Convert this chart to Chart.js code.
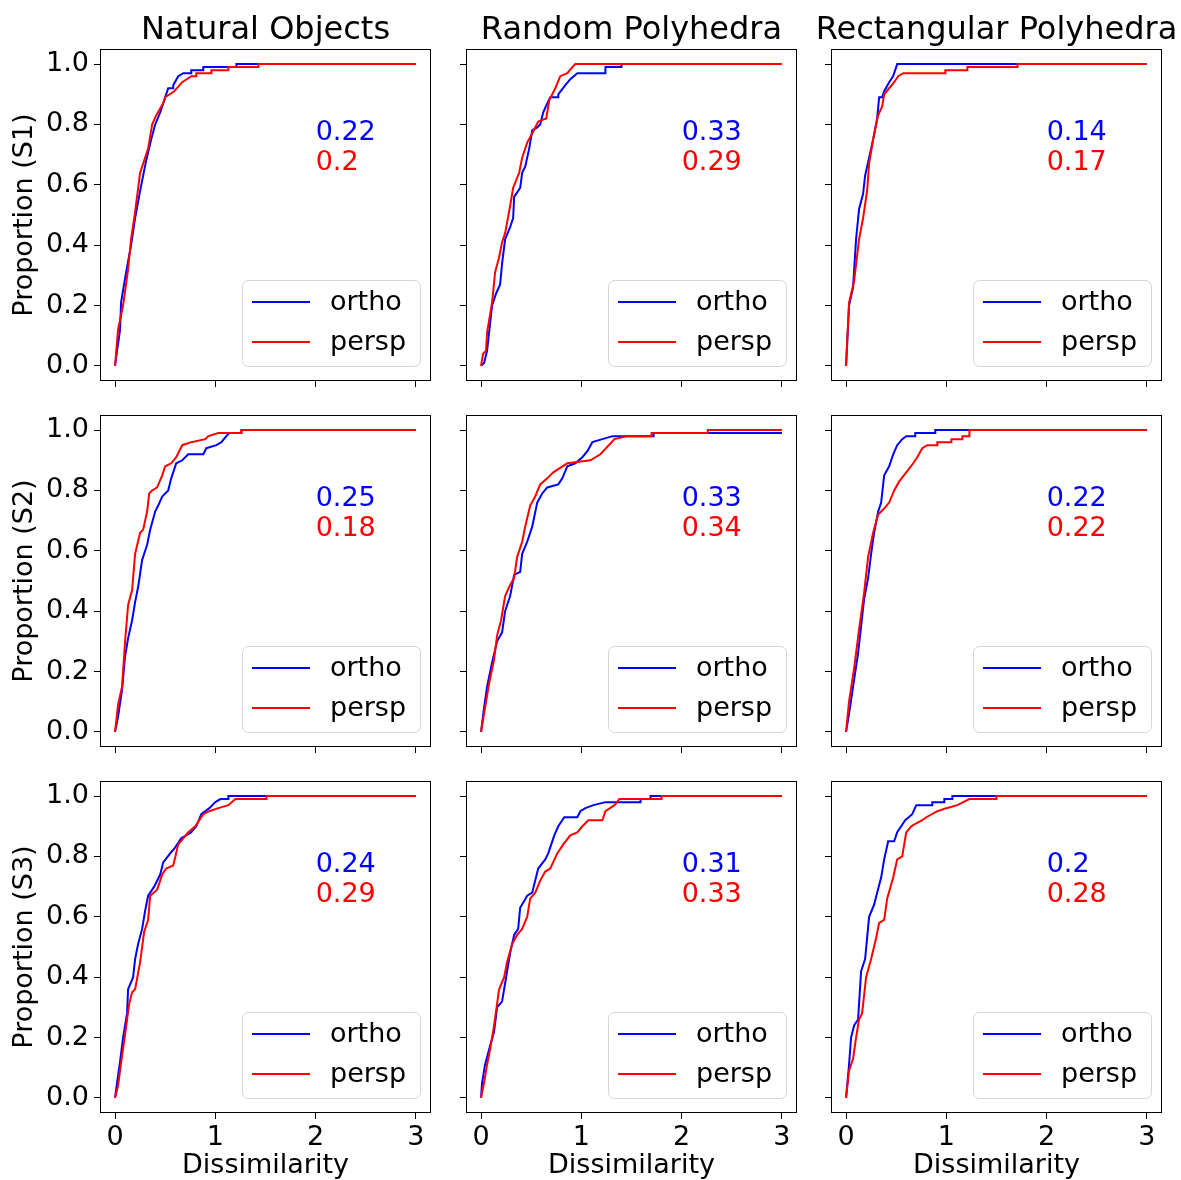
<!DOCTYPE html>
<html>
<head>
<meta charset="utf-8">
<script src="https://cdn.jsdelivr.net/npm/chart.js@4.4.1/dist/chart.umd.min.js"></script>
<style>
  html, body { margin: 0; padding: 0; background: #fff; }
  body { width: 1181px; height: 1180px; position: relative; overflow: hidden; }
  canvas { position: absolute; }
</style>
</head>
<body>
<script>
// ---------------------------------------------
// Data
// ---------------------------------------------
const objectTypes = ['Natural Objects', 'Random Polyhedra', 'Rectangular Polyhedra'];
const subjects = ['S1', 'S2', 'S3'];
const seriesLabels = ['ortho', 'persp'];
const xTicks = [0, 1, 2, 3];
const yTicks = [0, 0.2, 0.4, 0.6, 0.8, 1.0];

// numbers printed in each panel (rows = subjects, cols = object types)
const orthoScores = [[0.22, 0.33, 0.14], [0.25, 0.33, 0.22], [0.24, 0.31, 0.2]];
const perspScores = [[0.2, 0.29, 0.17], [0.18, 0.34, 0.22], [0.29, 0.33, 0.28]];

// cumulative proportion curves, [dissimilarity, proportion]
const natS1Ortho = [[0,0],[0.02,0.05],[0.05,0.12],[0.06,0.21],[0.11,0.31],[0.16,0.40],[0.20,0.49],[0.25,0.58],[0.31,0.68],[0.36,0.75],[0.40,0.80],[0.45,0.84],[0.48,0.87],[0.53,0.92],[0.58,0.92],[0.58,0.93],[0.63,0.96],[0.68,0.97],[0.76,0.97],[0.76,0.98],[0.88,0.98],[0.88,0.99],[1.21,0.99],[1.21,1.0],[3,1.0]];
const natS1Persp = [[0,0],[0.03,0.12],[0.08,0.20],[0.13,0.32],[0.16,0.42],[0.20,0.51],[0.25,0.64],[0.29,0.68],[0.33,0.72],[0.37,0.80],[0.41,0.83],[0.48,0.87],[0.50,0.89],[0.59,0.91],[0.67,0.94],[0.76,0.96],[0.81,0.96],[0.81,0.97],[0.96,0.97],[0.96,0.98],[1.13,0.98],[1.13,0.99],[1.43,0.99],[1.43,1.0],[3,1.0]];
const randS1Ortho = [[0,0],[0.03,0.01],[0.06,0.05],[0.09,0.14],[0.11,0.20],[0.15,0.24],[0.19,0.27],[0.21,0.34],[0.24,0.42],[0.29,0.46],[0.32,0.49],[0.33,0.56],[0.39,0.59],[0.41,0.64],[0.44,0.66],[0.48,0.72],[0.51,0.78],[0.56,0.79],[0.59,0.80],[0.62,0.84],[0.66,0.87],[0.69,0.89],[0.77,0.89],[0.77,0.90],[0.84,0.93],[0.89,0.95],[0.96,0.97],[1.24,0.97],[1.24,0.99],[1.40,0.99],[1.40,1.0],[3,1.0]];
const randS1Persp = [[0,0],[0.02,0.04],[0.05,0.05],[0.06,0.11],[0.09,0.17],[0.11,0.21],[0.14,0.31],[0.18,0.36],[0.21,0.41],[0.24,0.44],[0.29,0.53],[0.32,0.59],[0.38,0.64],[0.41,0.69],[0.46,0.74],[0.51,0.77],[0.57,0.81],[0.65,0.82],[0.68,0.88],[0.74,0.92],[0.79,0.96],[0.86,0.97],[0.91,0.99],[0.94,1.0],[3,1.0]];
const rectS1Ortho = [[0,0],[0.03,0.20],[0.07,0.26],[0.10,0.42],[0.13,0.52],[0.17,0.57],[0.19,0.63],[0.23,0.69],[0.27,0.75],[0.31,0.82],[0.33,0.89],[0.36,0.89],[0.38,0.91],[0.43,0.94],[0.47,0.96],[0.49,0.98],[0.51,1.0],[3,1.0]];
const rectS1Persp = [[0,0],[0.03,0.21],[0.08,0.28],[0.13,0.42],[0.17,0.49],[0.21,0.58],[0.23,0.67],[0.27,0.75],[0.32,0.83],[0.36,0.86],[0.38,0.90],[0.43,0.92],[0.48,0.94],[0.52,0.96],[0.57,0.97],[0.99,0.97],[0.99,0.98],[1.21,0.98],[1.21,0.99],[1.71,0.99],[1.71,1.0],[3,1.0]];

const natS2Ortho = [[0,0],[0.03,0.05],[0.07,0.14],[0.10,0.25],[0.13,0.31],[0.17,0.37],[0.20,0.43],[0.23,0.48],[0.27,0.57],[0.32,0.62],[0.35,0.67],[0.40,0.73],[0.43,0.75],[0.47,0.78],[0.53,0.80],[0.56,0.84],[0.61,0.89],[0.67,0.90],[0.73,0.92],[0.88,0.92],[0.91,0.94],[1.01,0.95],[1.06,0.96],[1.11,0.98],[1.14,0.99],[1.26,0.99],[1.26,1.0],[3,1.0]];
const natS2Persp = [[0,0],[0.03,0.09],[0.07,0.15],[0.10,0.30],[0.13,0.42],[0.17,0.47],[0.20,0.59],[0.25,0.66],[0.28,0.67],[0.32,0.73],[0.34,0.79],[0.37,0.80],[0.42,0.81],[0.47,0.85],[0.50,0.88],[0.56,0.89],[0.61,0.91],[0.67,0.95],[0.76,0.96],[0.90,0.97],[0.93,0.98],[1.03,0.99],[1.26,0.99],[1.26,1.0],[3,1.0]];
const randS2Ortho = [[0,0],[0.03,0.08],[0.06,0.15],[0.11,0.23],[0.16,0.30],[0.21,0.33],[0.24,0.40],[0.29,0.45],[0.33,0.52],[0.39,0.53],[0.41,0.59],[0.46,0.63],[0.51,0.68],[0.56,0.76],[0.61,0.79],[0.66,0.81],[0.77,0.82],[0.81,0.84],[0.86,0.88],[0.94,0.89],[1.01,0.91],[1.06,0.93],[1.11,0.96],[1.21,0.97],[1.31,0.98],[1.72,0.98],[1.72,0.99],[3,0.99]];
const randS2Persp = [[0,0],[0.03,0.06],[0.08,0.16],[0.13,0.24],[0.16,0.32],[0.20,0.37],[0.24,0.45],[0.28,0.48],[0.33,0.51],[0.36,0.58],[0.41,0.63],[0.44,0.68],[0.49,0.75],[0.54,0.78],[0.59,0.82],[0.66,0.84],[0.72,0.86],[0.86,0.89],[1.09,0.90],[1.19,0.92],[1.33,0.97],[1.46,0.98],[1.70,0.98],[1.70,0.99],[2.26,0.99],[2.26,1.0],[3,1.0]];
const rectS2Ortho = [[0,0],[0.03,0.06],[0.07,0.15],[0.12,0.26],[0.15,0.35],[0.18,0.44],[0.22,0.51],[0.25,0.59],[0.28,0.66],[0.32,0.73],[0.35,0.76],[0.38,0.85],[0.43,0.88],[0.47,0.92],[0.51,0.95],[0.56,0.97],[0.60,0.98],[0.69,0.98],[0.69,0.99],[0.89,0.99],[0.89,1.0],[3,1.0]];
const rectS2Persp = [[0,0],[0.03,0.10],[0.08,0.21],[0.13,0.34],[0.18,0.46],[0.22,0.58],[0.27,0.66],[0.32,0.72],[0.38,0.74],[0.43,0.76],[0.48,0.80],[0.53,0.83],[0.60,0.86],[0.67,0.89],[0.71,0.91],[0.76,0.94],[0.81,0.95],[0.91,0.95],[0.91,0.96],[1.05,0.96],[1.05,0.97],[1.16,0.97],[1.16,0.98],[1.23,0.98],[1.23,1.0],[3,1.0]];

const natS3Ortho = [[0,0],[0.02,0.05],[0.05,0.12],[0.08,0.20],[0.12,0.28],[0.13,0.36],[0.18,0.40],[0.20,0.46],[0.23,0.51],[0.27,0.56],[0.30,0.62],[0.33,0.67],[0.39,0.70],[0.45,0.74],[0.48,0.78],[0.55,0.81],[0.60,0.83],[0.66,0.86],[0.76,0.88],[0.81,0.90],[0.86,0.94],[0.94,0.96],[1.00,0.98],[1.05,0.99],[1.13,0.99],[1.13,1.0],[3,1.0]];
const natS3Persp = [[0,0],[0.03,0.04],[0.07,0.14],[0.10,0.21],[0.14,0.31],[0.17,0.35],[0.20,0.36],[0.25,0.45],[0.29,0.55],[0.33,0.59],[0.35,0.67],[0.42,0.69],[0.47,0.74],[0.51,0.76],[0.58,0.77],[0.63,0.84],[0.68,0.86],[0.73,0.88],[0.80,0.90],[0.88,0.94],[0.94,0.95],[1.03,0.96],[1.13,0.97],[1.20,0.99],[1.51,0.99],[1.51,1.0],[3,1.0]];
const randS3Ortho = [[0,0],[0.01,0.05],[0.04,0.11],[0.08,0.16],[0.13,0.22],[0.16,0.30],[0.21,0.32],[0.24,0.38],[0.29,0.48],[0.33,0.54],[0.37,0.56],[0.39,0.63],[0.46,0.67],[0.51,0.68],[0.54,0.72],[0.57,0.76],[0.64,0.79],[0.67,0.81],[0.73,0.87],[0.77,0.90],[0.83,0.93],[0.96,0.93],[0.99,0.95],[1.04,0.96],[1.12,0.97],[1.24,0.98],[1.59,0.98],[1.59,0.99],[1.69,0.99],[1.69,1.0],[3,1.0]];
const randS3Persp = [[0,0],[0.03,0.05],[0.06,0.11],[0.09,0.16],[0.13,0.24],[0.18,0.36],[0.23,0.40],[0.26,0.45],[0.31,0.51],[0.36,0.54],[0.41,0.56],[0.46,0.60],[0.49,0.66],[0.54,0.68],[0.59,0.72],[0.64,0.75],[0.69,0.76],[0.76,0.81],[0.82,0.84],[0.89,0.87],[0.96,0.88],[1.01,0.90],[1.07,0.92],[1.21,0.92],[1.24,0.95],[1.33,0.97],[1.38,0.99],[1.80,0.99],[1.80,1.0],[3,1.0]];
const rectS3Ortho = [[0,0],[0.03,0.11],[0.05,0.20],[0.08,0.24],[0.12,0.26],[0.15,0.42],[0.19,0.46],[0.23,0.60],[0.28,0.64],[0.31,0.68],[0.35,0.73],[0.38,0.79],[0.42,0.85],[0.48,0.85],[0.51,0.88],[0.55,0.90],[0.59,0.92],[0.66,0.94],[0.70,0.97],[0.86,0.97],[0.86,0.98],[0.98,0.98],[0.98,0.99],[1.06,0.99],[1.06,1.0],[3,1.0]];
const rectS3Persp = [[0,0],[0.03,0.09],[0.07,0.13],[0.10,0.20],[0.13,0.26],[0.16,0.28],[0.20,0.40],[0.25,0.46],[0.30,0.53],[0.33,0.58],[0.38,0.59],[0.41,0.66],[0.47,0.73],[0.51,0.79],[0.56,0.80],[0.60,0.88],[0.65,0.90],[0.70,0.91],[0.76,0.92],[0.80,0.93],[0.91,0.95],[1.00,0.96],[1.11,0.97],[1.23,0.99],[1.50,0.99],[1.50,1.0],[3,1.0]];

const orthoCurves = [
  [natS1Ortho, randS1Ortho, rectS1Ortho],
  [natS2Ortho, randS2Ortho, rectS2Ortho],
  [natS3Ortho, randS3Ortho, rectS3Ortho],
];
const perspCurves = [
  [natS1Persp, randS1Persp, rectS1Persp],
  [natS2Persp, randS2Persp, rectS2Persp],
  [natS3Persp, randS3Persp, rectS3Persp],
];

// ---------------------------------------------
// Layout
// ---------------------------------------------
const PLOT_LEFT = [100, 466, 831];
const PLOT_TOP = [49, 415, 781];
const PLOT_W = 331;
const PLOT_H = 332;
const PAD_L = 100, PAD_R = 100, PAD_T = 50, PAD_B = 70;
const FONT = "'DejaVu Sans', sans-serif";
const BLUE = '#0000ff';
const RED = '#ff0000';

const toPoints = (pairs) => pairs.map(([x, y]) => ({ x, y }));

/**
 * Black box round the plot area (matplotlib spines)
 */
const framePlugin = {
  id: 'frame',
  afterDraw(chart) {
    const { ctx, chartArea: a } = chart;
    ctx.save();
    ctx.strokeStyle = '#000';
    ctx.lineWidth = 1;
    ctx.strokeRect(Math.round(a.left) + 0.5, Math.round(a.top) + 0.5,
      Math.round(a.right - a.left) - 1, Math.round(a.bottom - a.top) - 1);
    ctx.restore();
  },
};

/**
 * The two numbers printed at (2, 0.75) and (2, 0.65)
 */
const scoresPlugin = {
  id: 'scores',
  afterDatasetsDraw(chart, args, opts) {
    const { ctx, scales: { x, y } } = chart;
    ctx.save();
    ctx.font = `27px ${FONT}`;
    ctx.textAlign = 'left';
    ctx.textBaseline = 'alphabetic';
    ctx.fillStyle = BLUE;
    ctx.fillText(String(opts.ortho), x.getPixelForValue(2), y.getPixelForValue(0.75));
    ctx.fillStyle = RED;
    ctx.fillText(String(opts.persp), x.getPixelForValue(2), y.getPixelForValue(0.65));
    ctx.restore();
  },
};

/**
 * Legend box in the lower right corner of the plot area
 */
const boxLegendPlugin = {
  id: 'boxLegend',
  afterDatasetsDraw(chart) {
    const { ctx, chartArea: a } = chart;
    const left = a.right - 189, top = a.bottom - 101, w = 178, h = 86;
    ctx.save();
    ctx.beginPath();
    if (ctx.roundRect) ctx.roundRect(left + 0.5, top + 0.5, w, h, 6);
    else ctx.rect(left + 0.5, top + 0.5, w, h);
    ctx.fillStyle = 'rgba(255,255,255,0.8)';
    ctx.fill();
    ctx.strokeStyle = '#d6d6d6';
    ctx.lineWidth = 1;
    ctx.stroke();

    ctx.font = `27px ${FONT}`;
    ctx.textAlign = 'left';
    ctx.textBaseline = 'middle';
    chart.data.datasets.forEach((ds, i) => {
      const ly = a.bottom - 79 + i * 40;
      ctx.beginPath();
      ctx.moveTo(a.right - 179, ly);
      ctx.lineTo(a.right - 121, ly);
      ctx.strokeStyle = ds.borderColor;
      ctx.lineWidth = 2;
      ctx.stroke();
      ctx.fillStyle = '#000';
      ctx.fillText(ds.label, a.right - 101, ly + 1);
    });
    ctx.restore();
  },
};

function makePanel(row, col) {
  const canvas = document.createElement('canvas');
  canvas.width = PAD_L + PLOT_W + PAD_R;
  canvas.height = PAD_T + PLOT_H + PAD_B;
  canvas.style.left = (PLOT_LEFT[col] - PAD_L) + 'px';
  canvas.style.top = (PLOT_TOP[row] - PAD_T) + 'px';
  document.body.appendChild(canvas);

  const isTop = row === 0;
  const isBottom = row === 2;
  const isLeft = col === 0;
  const tickFont = { family: FONT, size: 27 };

  return new Chart(canvas, {
    type: 'scatter',
    data: {
      datasets: [
        {
          label: seriesLabels[0],
          data: toPoints(orthoCurves[row][col]),
          borderColor: BLUE,
          backgroundColor: BLUE,
          showLine: true,
          order: 2,
        },
        {
          label: seriesLabels[1],
          data: toPoints(perspCurves[row][col]),
          borderColor: RED,
          backgroundColor: RED,
          showLine: true,
          order: 1,
        },
      ],
    },
    options: {
      responsive: false,
      animation: false,
      events: [],
      elements: {
        point: { radius: 0, hoverRadius: 0 },
        line: { borderWidth: 2, tension: 0, fill: false },
      },
      layout: { padding: { top: isTop ? 0 : PAD_T, right: 0, left: 0, bottom: 0 } },
      plugins: {
        legend: { display: false },
        tooltip: { enabled: false },
        title: {
          display: isTop,
          text: objectTypes[col],
          color: '#000',
          font: { family: FONT, size: 32, weight: 'normal', lineHeight: 1.1 },
          padding: { top: 14, bottom: 0.8 },
        },
        scores: { ortho: orthoScores[row][col], persp: perspScores[row][col] },
      },
      scales: {
        x: {
          type: 'linear',
          min: -0.15,
          max: 3.15,
          afterBuildTicks: (s) => { s.ticks = xTicks.map((v) => ({ value: v })); },
          afterFit: (s) => { s.height = PAD_B; },
          ticks: {
            display: isBottom,
            color: '#000',
            font: tickFont,
            padding: 3,
            maxRotation: 0,
            autoSkip: false,
            callback: (v) => String(v),
          },
          grid: { drawOnChartArea: false, drawTicks: true, tickLength: 6, color: '#000', lineWidth: 1 },
          border: { display: false },
          title: {
            display: isBottom,
            text: 'Dissimilarity',
            color: '#000',
            font: { family: FONT, size: 27, lineHeight: 1.2 },
            padding: { top: 0, bottom: 1 },
          },
        },
        y: {
          type: 'linear',
          min: -0.05,
          max: 1.05,
          afterBuildTicks: (s) => { s.ticks = yTicks.map((v) => ({ value: v })); },
          afterFit: (s) => { s.width = PAD_L; },
          ticks: {
            display: isLeft,
            color: '#000',
            font: tickFont,
            padding: 5,
            autoSkip: false,
            callback: (v) => Number(v).toFixed(1),
          },
          grid: { drawOnChartArea: false, drawTicks: true, tickLength: 6, color: '#000', lineWidth: 1 },
          border: { display: false },
          title: {
            display: isLeft,
            text: `Proportion (${subjects[row]})`,
            color: '#000',
            font: { family: FONT, size: 27, lineHeight: 1.2 },
            padding: { top: 9, bottom: 0 },
          },
        },
        // empty right-hand axis: keeps the canvas symmetric so the title sits over the plot
        yRight: {
          type: 'linear',
          position: 'right',
          afterFit: (s) => { s.width = PAD_R; },
          ticks: { display: false },
          grid: { display: false },
          border: { display: false },
        },
      },
    },
    plugins: [scoresPlugin, boxLegendPlugin, framePlugin],
  });
}

for (let row = 0; row < 3; row++) {
  for (let col = 0; col < 3; col++) {
    makePanel(row, col);
  }
}
</script>
</body>
</html>
